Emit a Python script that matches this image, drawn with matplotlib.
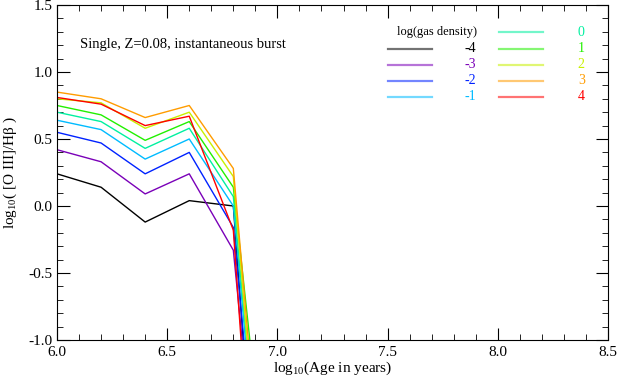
import numpy as np
import matplotlib
matplotlib.use('Agg')
import matplotlib.pyplot as plt
from matplotlib.ticker import MultipleLocator

plt.rcParams['font.family'] = ['Liberation Serif', 'DejaVu Serif']
plt.rcParams['mathtext.fontset'] = 'custom'
plt.rcParams['mathtext.rm'] = 'Liberation Serif'
plt.rcParams['mathtext.it'] = 'Liberation Serif:italic'

# log10 age grid
age = [6.0, 6.2, 6.4, 6.6, 6.8, 6.9]

# log10([O III]/Hbeta) for each log(gas density)
densities = ['-4', '-3', '-2', '-1', '0', '1', '2', '3', '4']
ratio_m4 = [0.24, 0.14, -0.12, 0.04, 0.00, -2.22]
ratio_m3 = [0.42, 0.33, 0.09, 0.24, -0.33, -2.00]
ratio_m2 = [0.55, 0.47, 0.24, 0.40, -0.16, -1.91]
ratio_m1 = [0.64, 0.57, 0.35, 0.50, 0.00, -1.82]
ratio_0 = [0.70, 0.63, 0.43, 0.58, 0.07, -1.71]
ratio_1 = [0.75, 0.68, 0.49, 0.63, 0.14, -1.38]
ratio_2 = [0.80, 0.77, 0.58, 0.70, 0.22, -1.75]
ratio_3 = [0.85, 0.80, 0.66, 0.75, 0.28, -1.60]
ratio_4 = [0.81, 0.76, 0.60, 0.67, -0.18, -2.52]
series = [ratio_m4, ratio_m3, ratio_m2, ratio_m1, ratio_0,
          ratio_1, ratio_2, ratio_3, ratio_4]

colors = ['black', '#7a00b8', '#0022ff', '#00bbff', '#00f0a0',
          '#22f000', '#c8f000', '#ff9c00', '#ff0000']

fig = plt.figure(figsize=(6.17, 3.84), dpi=100)
ax = fig.add_axes([0.0924, 0.1146, 0.893, 0.8724])

for y, c in zip(series, colors):
    ax.plot(age, y, color=c, lw=1.0)

ax.set_xlim(6.0, 8.5)
ax.set_ylim(-1.0, 1.5)
ax.xaxis.set_major_locator(MultipleLocator(0.5))
ax.xaxis.set_minor_locator(MultipleLocator(0.1))
ax.yaxis.set_major_locator(MultipleLocator(0.5))
ax.yaxis.set_minor_locator(MultipleLocator(0.1))
ax.tick_params(which='both', direction='in', top=True, right=True, labelsize=11)
ax.tick_params(which='major', length=9)
ax.tick_params(which='minor', length=4.5)
ax.tick_params(axis='x', pad=4)
ax.tick_params(axis='y', pad=3)
ax.xaxis.set_major_formatter(plt.FuncFormatter(lambda v, p: '%.1f' % v))
ax.yaxis.set_major_formatter(plt.FuncFormatter(lambda v, p: '%.1f' % v))

ax.set_xlabel('log$_{10}$(Age in years)', fontsize=11, labelpad=1)
ax.set_ylabel('log$_{10}$( [O III]/H\u03b2 )', fontsize=11, labelpad=7)

ax.text(0.042, 0.882, 'Single, Z=0.08, instantaneous burst', transform=ax.transAxes,
        fontsize=10.5, va='center', ha='left')

# legend drawn by hand in axes coordinates
ax.text(0.689, 0.918, 'log(gas density)', transform=ax.transAxes,
        fontsize=9, ha='center', va='center')
rows = [0.918, 0.870, 0.822, 0.774, 0.726]
for i, (lab, c) in enumerate(zip(densities, colors)):
    if i < 4:
        x0, x1, xt = 0.601, 0.681, 0.760
        yy = rows[i + 1]
    else:
        x0, x1, xt = 0.802, 0.882, 0.958
        yy = rows[i - 4]
    ax.plot([x0, x1], [yy, yy], color=c, lw=1.6, alpha=0.55,
            transform=ax.transAxes)
    ax.text(xt, yy, lab, color=c, fontsize=10, ha='right', va='center',
            transform=ax.transAxes)

plt.savefig('out.png', dpi=100)
